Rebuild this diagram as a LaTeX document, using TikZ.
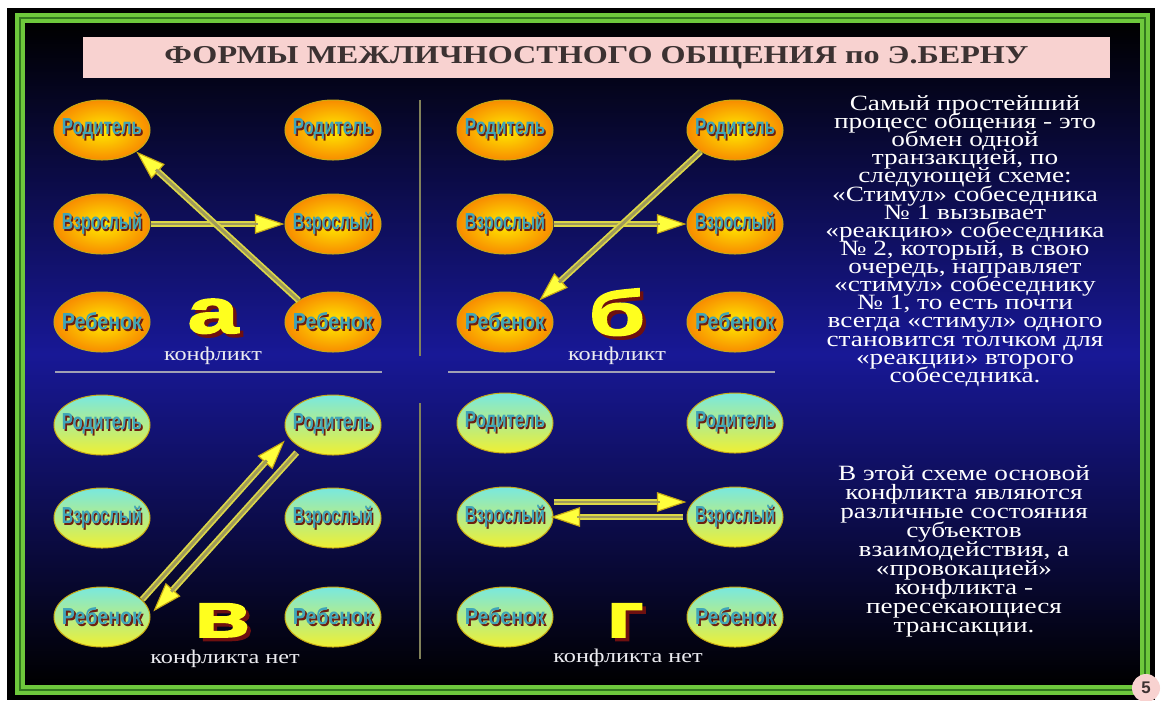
\documentclass[tikz,border=0pt]{standalone}
\usepackage{fontspec}
\usepackage{graphicx}
\setmainfont{Liberation Serif}[FakeStretch=1.25]
\newfontfamily\labelfont[FakeStretch=0.76]{Liberation Sans}
\newfontfamily\letterfont[FakeStretch=1.45,FakeBold=2.5]{Liberation Sans}
\newfontfamily\numfont{Liberation Sans}
\usetikzlibrary{shapes.geometric,arrows.meta}

\definecolor{slideblue}{RGB}{24,24,150}
\definecolor{framegreen}{RGB}{110,200,60}
\definecolor{framedark}{RGB}{50,120,30}
\definecolor{titlepink}{RGB}{248,210,208}
\definecolor{titleink}{RGB}{60,50,50}
\definecolor{warmin}{RGB}{255,236,0}
\definecolor{warmout}{RGB}{248,140,0}
\definecolor{coolup}{RGB}{120,232,224}
\definecolor{cooldown}{RGB}{240,240,50}
\definecolor{ellrim}{RGB}{200,170,20}
\definecolor{lblface}{RGB}{64,164,184}
\definecolor{lblshade}{RGB}{110,30,16}
\definecolor{tipyellow}{RGB}{255,255,60}
\definecolor{transrim}{RGB}{220,215,70}
\definecolor{transcore}{RGB}{160,155,90}
\definecolor{letterface}{RGB}{255,255,30}
\definecolor{lettershade}{RGB}{110,16,16}
\definecolor{captext}{RGB}{235,235,240}
\definecolor{divline}{RGB}{130,130,90}
\definecolor{hline}{RGB}{160,160,180}

% text with a cast shadow: #1 text, #2 shadow colour, #3 offset
\newcommand{\castshadow}[3]{\rlap{\kern#3\raisebox{-#3}{\textcolor{#2}{#1}}}#1}
\newcommand{\persona}[1]{\makebox[0pt]{\resizebox{2cm}{\height}{\castshadow{#1}{lblshade}{1.2pt}}}}
\newcommand{\bigletter}[1]{\castshadow{#1}{lettershade}{2.5pt}}
\newcommand{\tightlines}{\lineskiplimit=-20pt\relax}

\begin{document}
\begin{tikzpicture}[x=0.025cm,y=-0.025cm,thick,every text node part/.style={align=center},
    person/.style={ellipse,minimum width=2.4cm,minimum height=1.5cm,inner sep=0pt,
      draw=ellrim,line width=0.7pt,text=lblface,
      font=\labelfont\bfseries\fontsize{16.5}{16.5}\selectfont},
    warm/.style={person,inner color=warmin,outer color=warmout},
    cool/.style={person,top color=coolup,bottom color=cooldown},
    trans/.style={draw=transrim,line width=4.5pt,
      -{Triangle[length=21pt,width=14pt,fill=tipyellow,color=ellrim,line width=0.8pt]},
      postaction={draw=transcore,line width=2pt,-,shorten >=19pt}},
    letter/.style={anchor=base,text=letterface,font=\letterfont\bfseries\fontsize{45}{45}\selectfont},
    caption/.style={anchor=base,text=captext,font=\fontsize{13.8}{14}\selectfont},
    remark/.style={text=white,font=\fontsize{15.5}{12.9}\selectfont\tightlines}]

    \useasboundingbox (0,0) rectangle (1161,700);

    % --------------------------------------------------------- %
    % ------------- slide background and frame
    % --------------------------------------------------------- %
    \fill[white] (0,0) rectangle (1161,700);
    \fill[black] (7,8) rectangle (1155,700);
    \shade[top color=black,bottom color=black,middle color=slideblue] (25,23) rectangle (1140,685);
    \draw[framegreen,line width=7pt] (20,18) rectangle (1145,690);
    \draw[framedark,line width=0.8pt] (20,18) rectangle (1145,690);

    \node[fill=titlepink,minimum width=25.675cm,minimum height=1.025cm,inner sep=0pt,text=titleink,
      font=\bfseries\fontsize{18.3}{20}\selectfont] (title) at (596.5,57.5)
      {ФОРМЫ МЕЖЛИЧНОСТНОГО ОБЩЕНИЯ по Э.БЕРНУ};

    % dividers between the four schemes
    \draw[divline,line width=2pt] (420,100) -- (420,356);
    \draw[divline,line width=2pt] (420,403) -- (420,659);
    \draw[hline,line width=1.5pt] (55,372) -- (382,372);
    \draw[hline,line width=1.5pt] (448,372) -- (775,372);

    % --------------------------------------------------------- %
    % ------------- scheme a (conflict)
    % --------------------------------------------------------- %
    \node[warm] (aP1) at (102,130) {\persona{Родитель}};
    \node[warm] (aA1) at (102,224) {\persona{Взрослый}};
    \node[warm] (aC1) at (102,322) {\persona{Ребенок}};
    \node[warm] (aP2) at (333,130) {\persona{Родитель}};
    \node[warm] (aA2) at (333,224) {\persona{Взрослый}};
    \node[warm] (aC2) at (333,322) {\persona{Ребенок}};
    \node[letter] (qa) at (213,333) {\bigletter{а}};
    \node[caption] (capa) at (213,360) {конфликт};
    \draw[trans] (aA1) -- (aA2);
    \draw[trans] (aC2.north west) -- (aP1.south east);

    % --------------------------------------------------------- %
    % ------------- scheme b (conflict)
    % --------------------------------------------------------- %
    \node[warm] (bP1) at (505,130) {\persona{Родитель}};
    \node[warm] (bA1) at (505,224) {\persona{Взрослый}};
    \node[warm] (bC1) at (505,322) {\persona{Ребенок}};
    \node[warm] (bP2) at (735,130) {\persona{Родитель}};
    \node[warm] (bA2) at (735,224) {\persona{Взрослый}};
    \node[warm] (bC2) at (735,322) {\persona{Ребенок}};
    \node[letter] (qb) at (617,335) {\bigletter{б}};
    \node[caption] (capb) at (617,360) {конфликт};
    \draw[trans] (bA1) -- (bA2);
    \draw[trans] (bP2.south west) -- (bC1.north east);

    % --------------------------------------------------------- %
    % ------------- scheme v (no conflict)
    % --------------------------------------------------------- %
    \node[cool] (vP1) at (102,425) {\persona{Родитель}};
    \node[cool] (vA1) at (102,518) {\persona{Взрослый}};
    \node[cool] (vC1) at (102,617) {\persona{Ребенок}};
    \node[cool] (vP2) at (333,425) {\persona{Родитель}};
    \node[cool] (vA2) at (333,518) {\persona{Взрослый}};
    \node[cool] (vC2) at (333,617) {\persona{Ребенок}};
    \node[letter] (qv) at (222,637) {\bigletter{в}};
    \node[caption] (capv) at (225,663) {конфликта нет};
    \draw[trans] ([shift={(6,4)}]vC1.north east) -- ([shift={(-14,-6)}]vP2.south west);
    \draw[trans] ([shift={(-2,6)}]vP2.south west) -- ([shift={(17,16)}]vC1.north east);

    % --------------------------------------------------------- %
    % ------------- scheme g (no conflict)
    % --------------------------------------------------------- %
    \node[cool] (gP1) at (505,423) {\persona{Родитель}};
    \node[cool] (gA1) at (505,517) {\persona{Взрослый}};
    \node[cool] (gC1) at (505,617) {\persona{Ребенок}};
    \node[cool] (gP2) at (735,423) {\persona{Родитель}};
    \node[cool] (gA2) at (735,517) {\persona{Взрослый}};
    \node[cool] (gC2) at (735,617) {\persona{Ребенок}};
    \node[letter] (qg) at (625,637) {\bigletter{г}};
    \node[caption] (capg) at (628,662) {конфликта нет};
    \draw[trans] ([shift={(0,-15)}]gA1.east) -- ([shift={(0,-15)}]gA2.west);
    \draw[trans] ([shift={(-4,0)}]gA2.west) -- ([shift={(-3,0)}]gA1.east);

    % --------------------------------------------------------- %
    % ------------- explanations
    % --------------------------------------------------------- %
    \node[remark] (simple) at (965,241) {Самый простейший\\ процесс общения - это\\ обмен одной\\
      транзакцией, по\\ следующей схеме:\\ «Стимул» собеседника\\ № 1 вызывает\\
      «реакцию» собеседника\\ № 2, который, в свою\\ очередь, направляет\\
      «стимул» собеседнику\\ № 1, то есть почти\\ всегда «стимул» одного\\
      становится толчком для\\ «реакции» второго\\ собеседника.};
    \node[remark,font=\fontsize{15.5}{13.5}\selectfont\tightlines] (crossed) at (964,551)
      {В этой схеме основой\\ конфликта являются\\ различные состояния\\ субъектов\\
      взаимодействия, а\\ «провокацией»\\ конфликта -\\ пересекающиеся\\ трансакции.};

    \node[circle,fill=titlepink,minimum size=0.7cm,inner sep=0pt,text=titleink,
      font=\numfont\bfseries\fontsize{12}{12}\selectfont] (pagenum) at (1146,688) {5};

  \end{tikzpicture}
\end{document}
